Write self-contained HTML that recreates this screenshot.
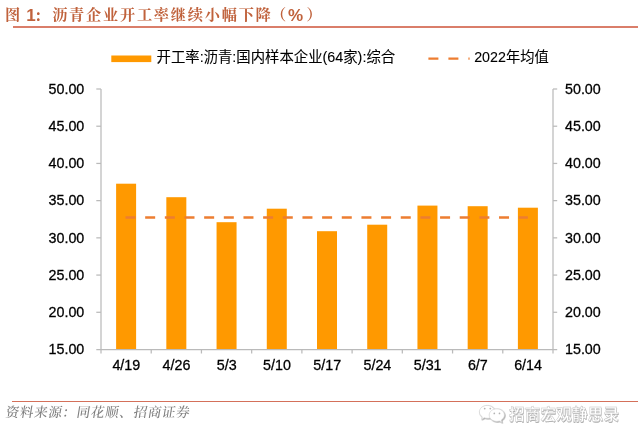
<!DOCTYPE html>
<html lang="zh-CN">
<head>
<meta charset="utf-8">
<title>图 1: 沥青企业开工率继续小幅下降(%)</title>
<style>
html,body{margin:0;padding:0;background:#fff;}
body{width:640px;height:443px;position:relative;overflow:hidden;font-family:"Liberation Sans","Noto Sans CJK SC",sans-serif;}
.chart{position:absolute;left:0;top:0;}
.title{position:absolute;left:5px;top:2.8px;height:24px;line-height:24px;white-space:nowrap;color:#c0623c;font-weight:bold;font-size:17px;}
.title .k{font-family:"Liberation Serif","Noto Serif CJK SC",serif;font-size:15.2px;letter-spacing:1.77px;font-weight:700;}
.title .a{font-family:"Liberation Sans",sans-serif;font-size:17px;position:relative;top:0.8px;}
.title .c{position:relative;top:1.3px;left:-0.8px;}
.rule1{position:absolute;left:12.5px;top:26px;width:625.5px;height:1.9px;background:#da7e6a;}
.rule2{position:absolute;left:12px;top:400.55px;width:626px;height:1.3px;background:#d4705a;}
.src{position:absolute;left:5px;top:403.3px;height:20px;line-height:20px;white-space:nowrap;color:#7f7f7f;font-family:"Liberation Serif","Noto Serif CJK SC",serif;font-style:normal;font-weight:500;transform:skewX(-9deg);transform-origin:0 70%;font-size:13.6px;letter-spacing:0.62px;}
.wm{position:absolute;left:478px;top:402px;height:24px;white-space:nowrap;}
.wm svg{position:absolute;left:0;top:0;}
.wm span{position:absolute;left:31px;top:2px;line-height:22px;font-size:15.6px;font-family:"Liberation Sans","Noto Sans CJK SC",sans-serif;color:#fff;font-weight:700;-webkit-text-stroke:0.45px #c2c2c2;text-shadow:0.6px 0.6px 0.2px #adadad;letter-spacing:0.15px;}
</style>
</head>
<body>
<div class="chart"><svg width="640" height="443" viewBox="0 0 640 443">
<rect x="116.11" y="183.70" width="20.0" height="165.80" fill="#ff9900"/>
<rect x="166.33" y="197.20" width="20.0" height="152.30" fill="#ff9900"/>
<rect x="216.56" y="222.20" width="20.0" height="127.30" fill="#ff9900"/>
<rect x="266.78" y="208.70" width="20.0" height="140.80" fill="#ff9900"/>
<rect x="317.00" y="231.20" width="20.0" height="118.30" fill="#ff9900"/>
<rect x="367.22" y="224.70" width="20.0" height="124.80" fill="#ff9900"/>
<rect x="417.44" y="205.60" width="20.0" height="143.90" fill="#ff9900"/>
<rect x="467.67" y="206.20" width="20.0" height="143.30" fill="#ff9900"/>
<rect x="517.89" y="207.70" width="20.0" height="141.80" fill="#ff9900"/>
<g stroke="#bababa" stroke-width="1.25" fill="none">
<path d="M101.0 89.0 V353.5"/>
<path d="M553.0 89.0 V353.5"/>
<path d="M96.3 349.5 H557.2"/>
<path d="M96.3 89.00 H101.0"/>
<path d="M553.0 89.00 H557.2"/>
<path d="M96.3 126.21 H101.0"/>
<path d="M553.0 126.21 H557.2"/>
<path d="M96.3 163.43 H101.0"/>
<path d="M553.0 163.43 H557.2"/>
<path d="M96.3 200.64 H101.0"/>
<path d="M553.0 200.64 H557.2"/>
<path d="M96.3 237.86 H101.0"/>
<path d="M553.0 237.86 H557.2"/>
<path d="M96.3 275.07 H101.0"/>
<path d="M553.0 275.07 H557.2"/>
<path d="M96.3 312.29 H101.0"/>
<path d="M553.0 312.29 H557.2"/>
<path d="M151.22 349.5 V353.5"/>
<path d="M201.44 349.5 V353.5"/>
<path d="M251.67 349.5 V353.5"/>
<path d="M301.89 349.5 V353.5"/>
<path d="M352.11 349.5 V353.5"/>
<path d="M402.33 349.5 V353.5"/>
<path d="M452.56 349.5 V353.5"/>
<path d="M502.78 349.5 V353.5"/>
</g>
<path d="M125.51 217.50 H527.89" stroke="#ed7d31" stroke-width="2.3" stroke-dasharray="10 9.66" fill="none"/>
<rect x="111.3" y="55.5" width="40" height="6.6" fill="#ff9900"/>
<path d="M428.4 58.6 H469.6" stroke="#ed7d31" stroke-width="2.3" stroke-dasharray="10 10" fill="none"/>
<g font-family="'Liberation Sans','Noto Sans CJK SC',sans-serif" font-size="14.3" fill="#000" stroke="#000" stroke-width="0.28">
<text x="156.6" y="61.6" stroke-width="0.1" textLength="238.5" lengthAdjust="spacingAndGlyphs">开工率:沥青:国内样本企业(64家):综合</text>
<text x="474.2" y="61.6" stroke-width="0.1" textLength="74.5" lengthAdjust="spacingAndGlyphs">2022年均值</text>
<text x="84.3" y="94.00" text-anchor="end">50.00</text>
<text x="565" y="94.00">50.00</text>
<text x="84.3" y="131.16" text-anchor="end">45.00</text>
<text x="565" y="131.16">45.00</text>
<text x="84.3" y="168.31" text-anchor="end">40.00</text>
<text x="565" y="168.31">40.00</text>
<text x="84.3" y="205.47" text-anchor="end">35.00</text>
<text x="565" y="205.47">35.00</text>
<text x="84.3" y="242.63" text-anchor="end">30.00</text>
<text x="565" y="242.63">30.00</text>
<text x="84.3" y="279.79" text-anchor="end">25.00</text>
<text x="565" y="279.79">25.00</text>
<text x="84.3" y="316.94" text-anchor="end">20.00</text>
<text x="565" y="316.94">20.00</text>
<text x="84.3" y="354.10" text-anchor="end">15.00</text>
<text x="565" y="354.10">15.00</text>
<text x="126.31" y="369.6" text-anchor="middle">4/19</text>
<text x="176.53" y="369.6" text-anchor="middle">4/26</text>
<text x="226.76" y="369.6" text-anchor="middle">5/3</text>
<text x="276.98" y="369.6" text-anchor="middle">5/10</text>
<text x="327.20" y="369.6" text-anchor="middle">5/17</text>
<text x="377.42" y="369.6" text-anchor="middle">5/24</text>
<text x="427.64" y="369.6" text-anchor="middle">5/31</text>
<text x="477.87" y="369.6" text-anchor="middle">6/7</text>
<text x="528.09" y="369.6" text-anchor="middle">6/14</text>
</g>
</svg></div>
<div class="title"><span class="k">图</span><span class="a" style="letter-spacing:-0.5px"> 1</span><span class="k c">：</span><span class="k">沥青企业开工率继续小幅下降</span><span class="k" style="margin-left:-1.6px">（</span><span class="a">%</span><span class="k" style="margin-left:3.4px">）</span></div>
<div class="rule1"></div>
<div class="rule2"></div>
<div class="src">资料来源：同花顺、招商证券</div>
<div class="wm"><svg width="30" height="24" viewBox="478 402 30 24"><defs><filter id="ds" x="-20%" y="-20%" width="150%" height="150%"><feDropShadow dx="0.7" dy="0.7" stdDeviation="0.45" flood-color="#8e8e8e" flood-opacity="0.9"/></filter></defs><g filter="url(#ds)" fill="#fff" stroke="#d2d2d2" stroke-width="0.7"><path d="M487.2 405.4c-4.3 0-7.8 2.9-7.8 6.5 0 2 1.1 3.8 2.9 5l-0.8 2.4 2.8-1.5c0.9 0.3 1.9 0.5 2.9 0.5 4.3 0 7.8-2.9 7.800-6.400 0-3.600-3.500-6.500-7.800-6.500z"/><path d="M496.800 408.800c-4.200 0-7.600 2.800-7.600 6.300 0 3.500 3.400 6.300 7.600 6.300 0.900 0 1.700-0.100 2.500-0.400l2.600 1.500-0.700-2.300c1.900-1.200 3.200-3 3.200-5.100 0-3.500-3.400-6.300-7.600-6.300z"/></g><g fill="#b4b4b4"><circle cx="484.700" cy="408.600" r="0.9"/><circle cx="490.300" cy="408.600" r="0.9"/><circle cx="494.300" cy="413.400" r="0.85"/><circle cx="499.500" cy="413.400" r="0.85"/></g></svg><span>招商宏观静思录</span></div>
</body>
</html>
